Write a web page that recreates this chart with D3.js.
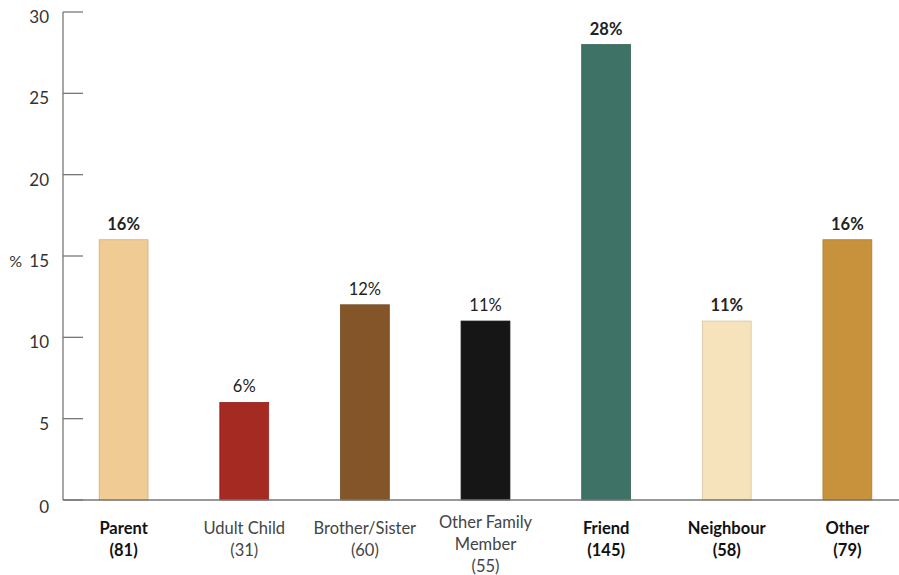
<!DOCTYPE html>
<html><head><meta charset="utf-8">
<script src="https://cdn.jsdelivr.net/npm/d3@7"></script>
<style>body{margin:0;background:#fff}svg{display:block}text{font-family:Lato,"Open Sans",sans-serif;fill:#222}</style>
</head><body><svg id="c" width="899" height="575"></svg>
<script>
const categories = [["Parent","(81)"],["Udult Child","(31)"],["Brother/Sister","(60)"],["Other Family","Member","(55)"],["Friend","(145)"],["Neighbour","(58)"],["Other","(79)"]];
const values = [16, 6, 12, 11, 28, 11, 16];
const bold = [true, false, false, false, true, true, true];
const colors = ["#F0CB94","#A52A22","#85552A","#161616","#3E7266","#F6E3BC","#C8913C"];
const yTicks = [0,5,10,15,20,25,30];

const svg = d3.select("#c");
const x = d3.scaleBand().domain(d3.range(values.length)).range([63, 908]).paddingInner(0.595).paddingOuter(0.3);
const y = d3.scaleLinear().domain([0,30]).range([500, 12]);

// y axis
svg.append("line").attr("x1",63).attr("x2",63).attr("y1",y(30)).attr("y2",y(0)).attr("stroke","#777").attr("stroke-width",1.3);
svg.selectAll(".yt").data(yTicks).join("line").attr("x1",63).attr("x2",83).attr("y1",d=>y(d)).attr("y2",d=>y(d)).attr("stroke","#777").attr("stroke-width",1.3);
svg.selectAll(".yl").data(yTicks).join("text").attr("x",49).attr("y",d=>y(d)+11+(d===0?2:0)).attr("text-anchor","end").attr("font-size",17).style("fill","#333").text(d=>d);
svg.append("text").attr("x",22).attr("y",y(15)+11).attr("text-anchor","end").attr("font-size",16).style("fill","#333").text("%");

// bars
svg.selectAll(".bar").data(values).join("rect")
  .attr("x",(d,i)=>x(i)).attr("width",x.bandwidth())
  .attr("y",d=>y(d)).attr("height",d=>y(0)-y(d))
  .attr("fill",(d,i)=>colors[i]).attr("stroke",(d,i)=>d3.color(colors[i]).darker(0.4)).attr("stroke-width",0.8);

// x axis line
svg.append("line").attr("x1",63).attr("x2",899).attr("y1",y(0)).attr("y2",y(0)).attr("stroke","#777").attr("stroke-width",1.3);

// value labels
svg.selectAll(".vl").data(values).join("text")
  .attr("x",(d,i)=>x(i)+x.bandwidth()/2).attr("y",d=>y(d)-10)
  .attr("text-anchor","middle").attr("font-size",16.5)
  .attr("font-weight",(d,i)=>bold[i]?"bold":"normal").text(d=>d+"%");

// category labels
categories.forEach((lines,i)=>{
  const t = svg.append("text").attr("x",x(i)+x.bandwidth()/2).attr("y", lines.length===3?528:534)
    .attr("text-anchor","middle").attr("font-size",16.5).attr("font-weight",bold[i]?"bold":"normal").style("fill",bold[i]?"#111":"#444");
  lines.forEach((l,j)=>t.append("tspan").attr("x",x(i)+x.bandwidth()/2).attr("dy",j?22:0).text(l));
});
</script></body></html>
